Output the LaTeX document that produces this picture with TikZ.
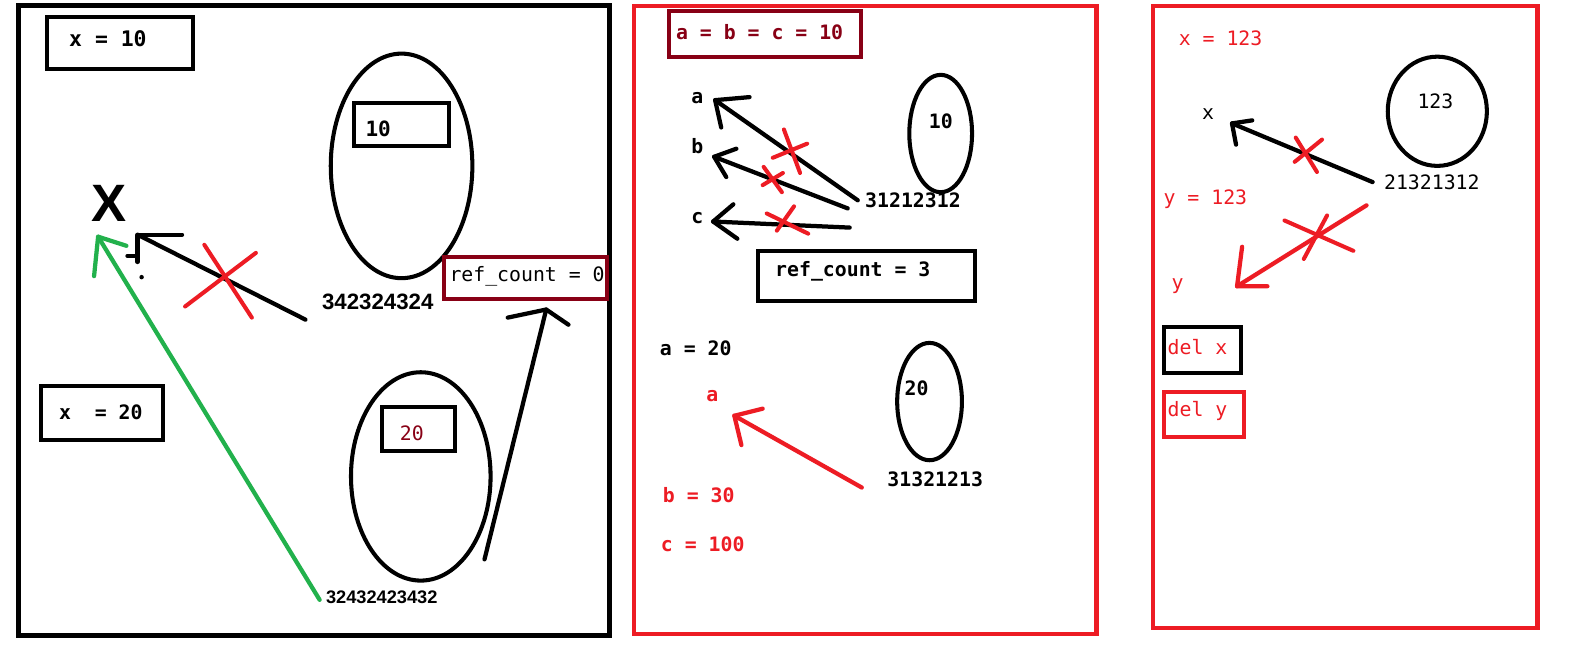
\documentclass[tikz,border=0pt]{standalone}
\usepackage{fontspec}
\setmainfont{DejaVu Sans}
\newfontfamily\mono{DejaVu Sans Mono}
\newfontfamily\numfont{Liberation Sans}
\usetikzlibrary{shapes.geometric}
\definecolor{pred}{HTML}{ED1C24}
\definecolor{pdark}{HTML}{880015}
\definecolor{pgreen}{HTML}{22B14C}
\tikzset{
  frame/.style={line width=2.5pt},
  box/.style={line width=2pt},
  pen/.style={line width=2.1pt, line cap=round, line join=round},
  cross/.style={line width=2pt, pred, line cap=round},
  code/.style={font=\mono\fontsize{9.8}{12}\selectfont, inner sep=0pt, anchor=west},
  codeb/.style={font=\mono\bfseries\fontsize{9.8}{12}\selectfont, inner sep=0pt, anchor=west},
  addr/.style={font=\numfont\bfseries\fontsize{11}{13}\selectfont, inner sep=0pt, anchor=west},
  oval/.style={line width=2pt},
}
\begin{document}
\begin{tikzpicture}[x=0.5pt,y=-0.5pt]
\useasboundingbox (0,0) rectangle (1568,655);
\fill[white] (0,0) rectangle (1568,655);

% ---------------- panel 1 ----------------
\draw[frame] (18,5) rectangle (603,628);
\draw[box] (46,17) rectangle (191,68);
\node[codeb, font=\mono\bfseries\fontsize{10.6}{12}\selectfont] (x10) at (68,38) {x = 10};

\node[font=\numfont\bfseries\fontsize{26}{28}\selectfont, inner sep=0pt] (bigX) at (108,201) {X};

\draw[oval] (397,164) ellipse [x radius=70, y radius=111];
\draw[box] (350,102) rectangle (444,144);
\node[codeb, font=\mono\bfseries\fontsize{10.4}{12}\selectfont] (v10) at (361,127) {10};
\node[addr] (a1) at (318,298) {342324324};

\draw[box, pdark] (439,254) rectangle (600,296);
\node[code] (rc0) at (444,273) {ref\_count = 0};

\coordinate (t1) at (302,316);
\coordinate (h1) at (136,232);
\draw[pen] (t1) -- (h1);
\draw[pen] (180,232) -- (h1) -- (136,259);
\draw[pen] (126,253) -- (134,253);
\fill (140,274) circle [radius=2.2];
\draw[cross] (202,242) -- (249,314);
\draw[cross] (253,250) -- (183,303);

\coordinate (t2) at (316,593);
\coordinate (h2) at (97,234);
\draw[pen, pgreen] (t2) -- (h2);
\draw[pen, pgreen] (125,243) -- (h2) -- (93,273);

\draw[box] (41,382) rectangle (161,435);
\node[codeb] (x20) at (58,408) {x\ \ = 20};

\draw[oval] (416,471) ellipse [x radius=69, y radius=103];
\draw[box] (378,402) rectangle (450,446);
\node[codeb, pdark, font=\mono\fontsize{9.8}{12}\selectfont] (v20) at (395,428) {20};
\node[addr, font=\numfont\bfseries\fontsize{9}{11}\selectfont] (a2) at (322,590) {32432423432};

\coordinate (t3) at (479,553);
\coordinate (h3) at (540,306);
\draw[pen] (t3) -- (h3);
\draw[pen] (502,314) -- (h3) -- (562,321);

% ---------------- panel 2 ----------------
\draw[frame, pred, line width=2.2pt] (627,6) rectangle (1084,627);
\draw[box, pdark] (661,11) rectangle (851,56);
\node[codeb, pdark] (abc) at (668,32) {a = b = c = 10};

\node[codeb] (na) at (683,97) {a};
\node[codeb] (nb) at (683,144) {b};
\node[codeb] (nc) at (683,216) {c};

\draw[oval] (930,132) ellipse [x radius=31, y radius=58];
\node[codeb] (v10b) at (918,120) {10};
\node[codeb] (a3) at (855,198) {31212312};

\coordinate (ta) at (848,198);
\coordinate (ha) at (707,99);
\draw[pen] (ta) -- (ha);
\draw[pen] (741,96) -- (ha) -- (713,126);
\coordinate (tb) at (838,206);
\coordinate (hb) at (706,155);
\draw[pen] (tb) -- (hb);
\draw[pen] (728,147) -- (hb) -- (718,175);
\coordinate (tc) at (840,225);
\coordinate (hc) at (705,219);
\draw[pen] (tc) -- (hc);
\draw[pen] (725,202) -- (hc) -- (729,236);

\draw[cross] (775,128) -- (791,171);
\draw[cross] (764,156) -- (798,142);
\draw[cross] (755,165) -- (773,190);
\draw[cross] (754,183) -- (774,171);
\draw[cross] (785,204) -- (768,228);
\draw[cross] (758,211) -- (799,231);

\draw[box] (749,248) rectangle (964,298);
\node[codeb] (rc3) at (766,268) {ref\_count = 3};

\node[codeb] (a20) at (652,344) {a = 20};
\node[codeb, pred] (ra) at (698,392) {a};
\draw[oval] (919,397) ellipse [x radius=32, y radius=58];
\node[codeb] (v20b) at (894,384) {20};
\node[codeb] (a4) at (877,474) {31321213};
\coordinate (tr) at (852,482);
\coordinate (hr) at (726,411);
\draw[pen, pred] (tr) -- (hr);
\draw[pen, pred] (754,404) -- (hr) -- (733,440);

\node[codeb, pred] (b30) at (655,489) {b = 30};
\node[codeb, pred] (c100) at (653,538) {c = 100};

% ---------------- panel 3 ----------------
\draw[frame, pred, line width=2.2pt] (1140,6) rectangle (1520,621);
\node[code, pred] (x123) at (1165,38) {x = 123};
\node[code] (nx) at (1188,113) {x};
\draw[oval] (1421,110) ellipse [x radius=49, y radius=54];
\node[code] (v123) at (1401,100) {123};
\node[code] (a5) at (1368,180) {21321312};

\coordinate (tx) at (1357,180);
\coordinate (hx) at (1218,122);
\draw[pen] (tx) -- (hx);
\draw[pen] (1238,119) -- (hx) -- (1222,143);
\draw[cross] (1281,136) -- (1302,170);
\draw[cross] (1307,138) -- (1280,160);

\node[code, pred] (y123) at (1150,197) {y = 123};
\coordinate (ty) at (1351,203);
\coordinate (hy) at (1223,283);
\draw[pen, pred] (ty) -- (hy);
\draw[pen, pred] (1228,244) -- (hy) -- (1253,283);
\draw[cross] (1270,218) -- (1338,248);
\draw[cross] (1312,213) -- (1289,256);
\node[code, pred] (ny) at (1158,283) {y};

\draw[box] (1151,323) rectangle (1227,369);
\node[code, pred] (delx) at (1154,343) {del x};
\draw[box, pred] (1151,388) rectangle (1230,432);
\node[code, pred] (dely) at (1154,406) {del y};
\end{tikzpicture}
\end{document}
